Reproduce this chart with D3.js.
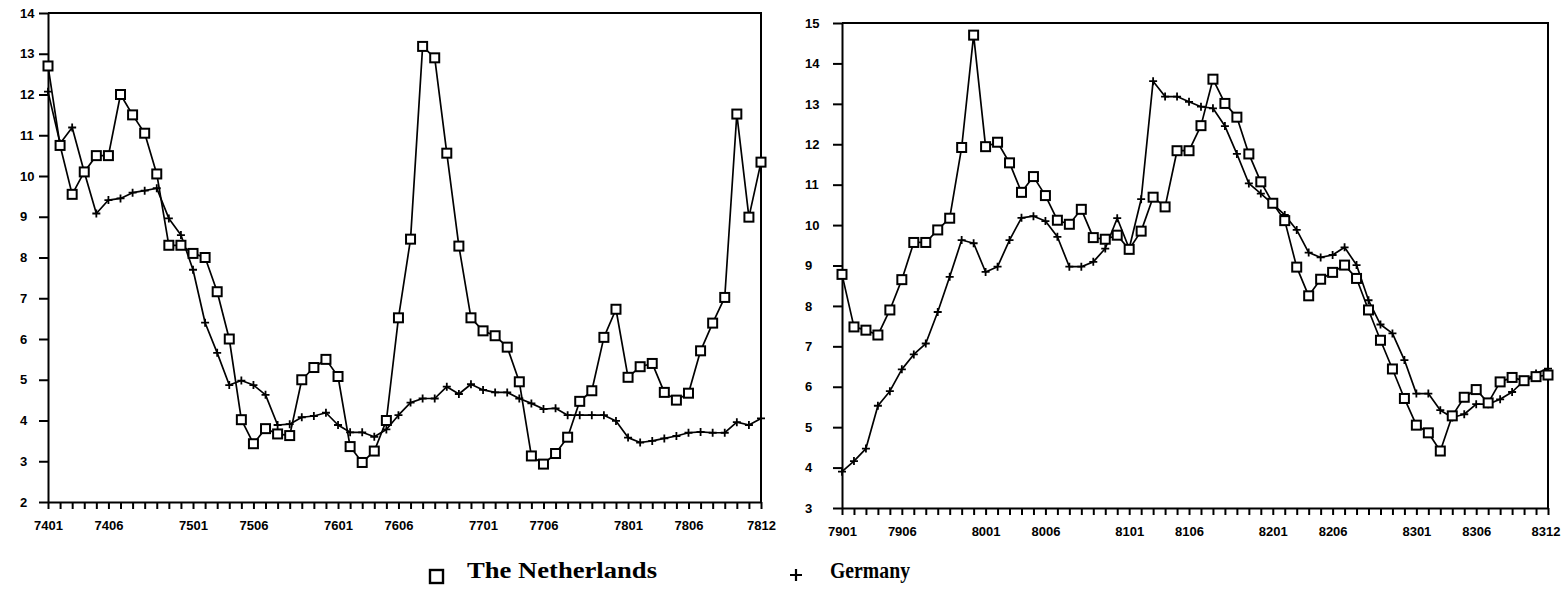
<!DOCTYPE html>
<html>
<head>
<meta charset="utf-8">
<script src="https://cdn.jsdelivr.net/npm/d3@7"></script>
<style>
  body { margin: 0; background: #fff; }
  svg { display: block; }
  .axis text { font-family: "Liberation Sans", Arial, sans-serif; font-weight: bold; font-size: 13px; fill: #000; }
  .axis path, .axis line { stroke: #000; stroke-width: 2; }
</style>
</head>
<body>
<svg width="1561" height="594"></svg>
<script>
// month codes yymm
var makeMonths = function(fromYear, toYear) {
  var out = [];
  for (var y = fromYear; y <= toYear; y++)
    for (var m = 1; m <= 12; m++) out.push(String(y) + (m < 10 ? "0" + m : m));
  return out;
};
var leftMonths = makeMonths(74, 78);
var rightMonths = makeMonths(79, 83);

var leftTickLabels = ["7401","7406","7501","7506","7601","7606","7701","7706","7801","7806","7812"];
var rightTickLabels = ["7901","7906","8001","8006","8101","8106","8201","8206","8301","8306","8312"];

var nlLeft = [12.7,10.75,9.55,10.1,10.5,10.5,12.0,11.5,11.05,10.05,
  8.3,8.3,8.1,8.0,7.16,6.0,4.02,3.43,3.8,3.67,
  3.63,5.0,5.3,5.5,5.08,3.36,2.97,3.25,4.0,6.52,
  8.45,13.18,12.9,10.56,8.28,6.52,6.2,6.08,5.8,4.95,
  3.13,2.93,3.19,3.59,4.47,4.73,6.04,6.73,5.06,5.32,
  5.4,4.69,4.5,4.67,5.71,6.39,7.02,11.52,8.99,10.34];
var deLeft = [12.07,10.8,11.19,10.1,9.08,9.41,9.45,9.59,9.64,9.7,
  8.96,8.55,7.7,6.4,5.66,4.87,4.98,4.87,4.63,3.89,
  3.91,4.08,4.11,4.19,3.89,3.71,3.71,3.6,3.78,4.13,
  4.44,4.54,4.54,4.83,4.65,4.89,4.75,4.69,4.69,4.54,
  4.42,4.28,4.3,4.13,4.13,4.13,4.13,3.99,3.58,3.46,
  3.5,3.56,3.62,3.7,3.72,3.7,3.7,3.96,3.89,4.05];

var nlRight = [8.78,7.48,7.4,7.28,7.9,8.65,9.57,9.57,9.88,10.17,
  11.92,14.7,11.94,12.05,11.54,10.81,11.2,10.73,10.12,10.02,
  10.39,9.69,9.65,9.75,9.4,9.85,10.69,10.45,11.84,11.84,
  12.46,13.61,13.01,12.67,11.76,11.07,10.54,10.11,8.96,8.25,
  8.66,8.83,9.01,8.68,7.9,7.15,6.44,5.71,5.05,4.86,
  4.41,5.28,5.74,5.93,5.6,6.12,6.23,6.15,6.25,6.29];
var deRight = [3.9,4.16,4.47,5.53,5.89,6.43,6.8,7.07,7.85,8.72,
  9.63,9.55,8.84,8.97,9.63,10.18,10.22,10.1,9.71,8.97,
  8.97,9.09,9.42,10.17,9.42,10.64,13.56,13.18,13.18,13.05,
  12.93,12.89,12.45,11.76,11.03,10.78,10.52,10.25,9.88,9.32,
  9.2,9.26,9.45,9.01,8.14,7.54,7.32,6.66,5.83,5.83,
  5.42,5.24,5.32,5.57,5.57,5.69,5.87,6.15,6.33,6.45];

var svg = d3.select("svg");

var drawPanel = function(p) {
  var x = d3.scalePoint().domain(p.months).range(p.xRange);
  var y = d3.scaleLinear().domain(p.yDomain).range(p.yRange);
  var g = svg.append("g");

  // frame: top and right sides
  g.append("path")
    .attr("d", "M" + p.xRange[0] + "," + p.yRange[1] + "H" + p.xRange[1] + "V" + p.yRange[0])
    .attr("fill", "none").attr("stroke", "#000").attr("stroke-width", 2);

  var yAxis = d3.axisLeft(y)
    .tickValues(d3.range(p.yDomain[0], p.yDomain[1] + 1))
    .tickSize(9).tickSizeOuter(0).tickFormat(d3.format("d"));
  var ya = g.append("g").attr("class", "axis")
    .attr("transform", "translate(" + p.xRange[0] + ",0)")
    .call(yAxis);
  ya.selectAll("text").attr("text-anchor", "start").attr("x", p.labelX - p.xRange[0]);

  var xAxis = d3.axisBottom(x)
    .tickSize(7).tickSizeOuter(0).tickPadding(12)
    .tickFormat(function(d) { return p.ticks.indexOf(d) >= 0 ? d : ""; });
  var xa = g.append("g").attr("class", "axis")
    .attr("transform", "translate(0," + p.yRange[0] + ")")
    .call(xAxis);
  // keep the last label inside the window
  if (p.clipLast) {
    xa.selectAll(".tick text").filter(function(d) { return d === p.months[p.months.length - 1]; })
      .attr("text-anchor", "end").attr("x", 12);
  }

  var line = d3.line()
    .x(function(d, i) { return x(p.months[i]); })
    .y(function(d) { return y(d); });

  [p.de, p.nl].forEach(function(s) {
    g.append("path").datum(s).attr("d", line)
      .attr("fill", "none").attr("stroke", "#000").attr("stroke-width", 1.7)
      .attr("stroke-linejoin", "round");
  });

  g.selectAll(".plus").data(p.de).enter().append("path")
    .attr("class", "plus")
    .attr("transform", function(d, i) { return "translate(" + x(p.months[i]) + "," + y(d) + ")"; })
    .attr("d", "M-4,0H4M0,-4V4")
    .attr("stroke", "#000").attr("stroke-width", 1.8);

  g.selectAll(".sq").data(p.nl).enter().append("rect")
    .attr("class", "sq")
    .attr("x", function(d, i) { return x(p.months[i]) - 4.5; })
    .attr("y", function(d) { return y(d) - 4.5; })
    .attr("width", 9).attr("height", 9)
    .attr("fill", "#fff").attr("stroke", "#000").attr("stroke-width", 2);
};

drawPanel({ months: leftMonths, ticks: leftTickLabels, nl: nlLeft, de: deLeft,
  xRange: [48, 761], yDomain: [2, 14], yRange: [502, 13], labelX: 20 });
drawPanel({ months: rightMonths, ticks: rightTickLabels, nl: nlRight, de: deRight,
  xRange: [842, 1548], yDomain: [3, 15], yRange: [508, 23], labelX: 805, clipLast: true });

// legend
var legend = svg.append("g")
  .style("font-family", "'Liberation Serif', 'Times New Roman', serif")
  .style("font-weight", "bold").style("font-size", "23px");
legend.append("rect").attr("x", 430).attr("y", 570).attr("width", 13).attr("height", 13)
  .attr("fill", "#fff").attr("stroke", "#000").attr("stroke-width", 2.4);
legend.append("text").attr("x", 467).attr("y", 578).text("The Netherlands")
  .attr("textLength", 190).attr("lengthAdjust", "spacingAndGlyphs");
legend.append("path").attr("d", "M790,575H802M796,569V581")
  .attr("stroke", "#000").attr("stroke-width", 2.2);
legend.append("text").attr("x", 830).attr("y", 578).text("Germany")
  .attr("textLength", 80).attr("lengthAdjust", "spacingAndGlyphs");
</script>
</body>
</html>
